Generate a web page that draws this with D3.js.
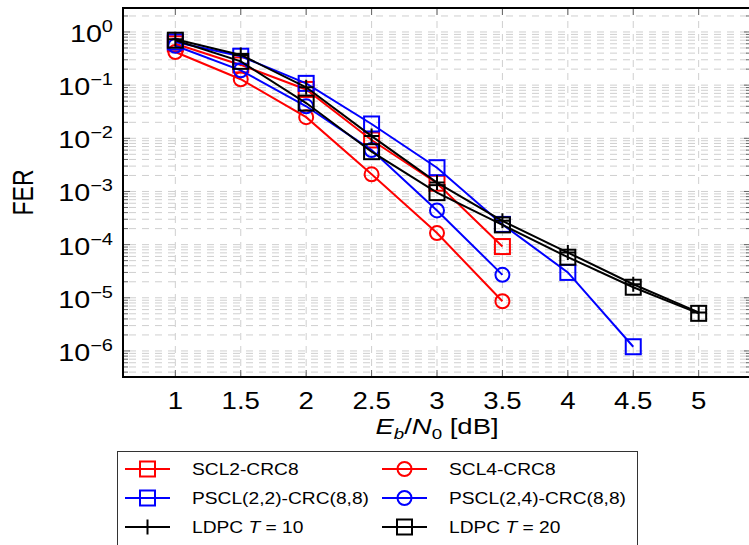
<!DOCTYPE html>
<html>
<head>
<meta charset="utf-8">
<script src="https://cdn.jsdelivr.net/npm/d3@7"></script>
<style>
  body { margin: 0; background: #fff; }
  text { font-family: "Liberation Sans", Arial, sans-serif; fill: #000; }
</style>
</head>
<body>
<div id="chart"></div>
<script>
// Eb/N0 points (dB)
const ebn0 = [1, 1.5, 2, 2.5, 3, 3.5, 4, 4.5, 5];
const xTicks = [1, 1.5, 2, 2.5, 3, 3.5, 4, 4.5, 5];
const yTickExp = [0, -1, -2, -3, -4, -5, -6];

// FER values per scheme
const scl2 = [0.60, 0.24, 0.083, 9.3e-3, 1.43e-3, 9.2e-5];
const scl4 = [0.42, 0.129, 0.025, 2.1e-3, 1.65e-4, 8.6e-6];
const pscl22 = [0.65, 0.35, 0.108, 0.0186, 2.8e-3, 2.4e-4, 3.0e-5, 1.2e-6];
const pscl24 = [0.55, 0.19, 0.040, 6.0e-3, 4.4e-4, 2.7e-5];
const ldpc10 = [0.73, 0.37, 0.091, 0.011, 1.47e-3, 2.8e-4, 7.1e-5, 1.8e-5, 5.3e-6];
const ldpc20 = [0.70, 0.28, 0.046, 5.6e-3, 9.5e-4, 2.35e-4, 5.8e-5, 1.58e-5, 5.1e-6];

const seriesNames = ["SCL2-CRC8", "SCL4-CRC8", "PSCL(2,2)-CRC(8,8)", "PSCL(2,4)-CRC(8,8)", "LDPC T = 10", "LDPC T = 20"];

const series = [
  { name: seriesNames[0], values: scl2, color: "#ff0000", mark: "square" },
  { name: seriesNames[1], values: scl4, color: "#ff0000", mark: "circle" },
  { name: seriesNames[2], values: pscl22, color: "#0000ff", mark: "square" },
  { name: seriesNames[3], values: pscl24, color: "#0000ff", mark: "circle" },
  { name: seriesNames[4], values: ldpc10, color: "#000000", mark: "plus" },
  { name: seriesNames[5], values: ldpc20, color: "#000000", mark: "square" }
];

const W = 749, H = 545;
const pLeft = 123, pTop = 8, pRight = 751, pBottom = 377;
const sx = 1.25; // the text in the picture is a bit wide

const svg = d3.select("#chart").append("svg")
  .attr("width", W).attr("height", H);

const x = d3.scaleLinear().domain([0.6, 5.4]).range([pLeft, pRight]);
const y = d3.scaleLog().domain([Math.pow(10, -6.49), Math.pow(10, 0.451)]).range([pBottom, pTop]);

// grid
const grid = svg.append("g");
const minorVals = [];
for (let e = -7; e <= 0; e++) {
  for (let m = 1; m <= 9; m++) {
    const v = m * Math.pow(10, e);
    if (v >= y.domain()[0] && v <= y.domain()[1]) minorVals.push(v);
  }
}
const isMajor = d => Math.abs(Math.log10(d) - Math.round(Math.log10(d))) < 1e-9;

grid.selectAll("line.h").data(minorVals).enter().append("line")
  .attr("x1", pLeft).attr("x2", pRight)
  .attr("y1", d => y(d)).attr("y2", d => y(d))
  .attr("stroke", "#cfcfcf").attr("stroke-width", 1)
  .attr("stroke-dasharray", "7,6").attr("stroke-dashoffset", -6);
grid.selectAll("line.v").data(xTicks).enter().append("line")
  .attr("x1", d => x(d)).attr("x2", d => x(d))
  .attr("y1", pTop).attr("y2", pBottom)
  .attr("stroke", "#cfcfcf").attr("stroke-width", 1)
  .attr("stroke-dasharray", "7,6");

// ticks
const ticks = svg.append("g").attr("stroke", "#666").attr("stroke-width", 1);
ticks.selectAll("line.yl").data(minorVals).enter().append("line")
  .attr("x1", pLeft).attr("x2", d => pLeft + (isMajor(d) ? 7 : 5))
  .attr("y1", d => y(d)).attr("y2", d => y(d));
ticks.selectAll("line.yr").data(minorVals).enter().append("line")
  .attr("x1", pRight).attr("x2", d => pRight - (isMajor(d) ? 7 : 5))
  .attr("y1", d => y(d)).attr("y2", d => y(d));
ticks.selectAll("line.xb").data(xTicks).enter().append("line")
  .attr("x1", d => x(d)).attr("x2", d => x(d))
  .attr("y1", pBottom).attr("y2", pBottom - 7);
ticks.selectAll("line.xt").data(xTicks).enter().append("line")
  .attr("x1", d => x(d)).attr("x2", d => x(d))
  .attr("y1", pTop).attr("y2", pTop + 7);

// frame
svg.append("rect")
  .attr("x", pLeft).attr("y", pTop)
  .attr("width", pRight - pLeft).attr("height", pBottom - pTop)
  .attr("fill", "none").attr("stroke", "#000").attr("stroke-width", 2);

// tick labels
svg.selectAll("text.xt").data(xTicks).enter().append("text")
  .attr("transform", d => `translate(${x(d)},409) scale(1.2,1)`)
  .attr("text-anchor", "middle").attr("font-size", 23)
  .text(d => d);

const yl = svg.selectAll("text.yt").data(yTickExp).enter().append("text")
  .attr("transform", d => `translate(113,${y(Math.pow(10, d)) + 10}) scale(${sx},1)`)
  .attr("text-anchor", "end").attr("font-size", 23);
yl.append("tspan").text("10");
yl.append("tspan").attr("dy", -10).attr("font-size", 16)
  .text(d => d === 0 ? "0" : "\u2212" + Math.abs(d));

// axis labels
const xl = svg.append("text")
  .attr("transform", `translate(${(pLeft + pRight) / 2},434) scale(${sx},1)`)
  .attr("text-anchor", "middle").attr("font-size", 22);
xl.append("tspan").attr("font-style", "italic").text("E");
xl.append("tspan").attr("font-style", "italic").attr("font-size", 15).attr("dy", 5).text("b");
xl.append("tspan").attr("dy", -5).text("/");
xl.append("tspan").attr("font-style", "italic").text("N");
xl.append("tspan").attr("font-size", 15).attr("dy", 5).text("0");
xl.append("tspan").attr("dy", -5).text(" [dB]");

svg.append("text")
  .attr("transform", `translate(33, ${(pTop + pBottom) / 2}) scale(${sx},1) rotate(-90)`)
  .attr("text-anchor", "middle").attr("font-size", 23)
  .text("FER");

// markers
function drawMark(g, mark, color, cx, cy, s) {
  if (mark === "square") {
    g.append("rect").attr("x", cx - s / 2).attr("y", cy - s / 2)
      .attr("width", s).attr("height", s)
      .attr("fill", "none").attr("stroke", color).attr("stroke-width", 2);
  } else if (mark === "circle") {
    g.append("circle").attr("cx", cx).attr("cy", cy).attr("r", s / 2 - 0.5)
      .attr("fill", "none").attr("stroke", color).attr("stroke-width", 2);
  } else {
    g.append("path")
      .attr("d", `M${cx - s / 2},${cy}H${cx + s / 2}M${cx},${cy - s / 2}V${cy + s / 2}`)
      .attr("stroke", color).attr("stroke-width", 2);
  }
}

const line = d3.line().x((d, i) => x(ebn0[i])).y(d => y(d));
const plot = svg.append("g");
series.forEach(s => {
  plot.append("path").datum(s.values)
    .attr("d", line)
    .attr("fill", "none").attr("stroke", s.color).attr("stroke-width", 2);
  s.values.forEach((v, i) => drawMark(plot, s.mark, s.color, x(ebn0[i]), y(v), 15));
});

// legend
const lg = svg.append("g");
lg.append("rect").attr("x", 117.5).attr("y", 451.5)
  .attr("width", 520).attr("height", 100)
  .attr("fill", "#fff").attr("stroke", "#333").attr("stroke-width", 1);

series.forEach((s, i) => {
  const col = i % 2, row = Math.floor(i / 2);
  const lx = col === 0 ? 125 : 382;
  const ly = 469 + row * 29;
  lg.append("line").attr("x1", lx).attr("x2", lx + 45)
    .attr("y1", ly).attr("y2", ly)
    .attr("stroke", s.color).attr("stroke-width", 2);
  drawMark(lg, s.mark, s.color, lx + 22.5, ly, 15);
  const t = lg.append("text")
    .attr("transform", `translate(${lx + 67},${ly + 6}) scale(1.2,1)`)
    .attr("font-size", 16);
  if (s.name.startsWith("LDPC")) {
    const parts = s.name.split(" ");
    t.append("tspan").text("LDPC ");
    t.append("tspan").attr("font-style", "italic").text("T");
    t.append("tspan").text(" = " + parts[3]);
  } else {
    t.text(s.name);
  }
});
</script>
</body>
</html>
